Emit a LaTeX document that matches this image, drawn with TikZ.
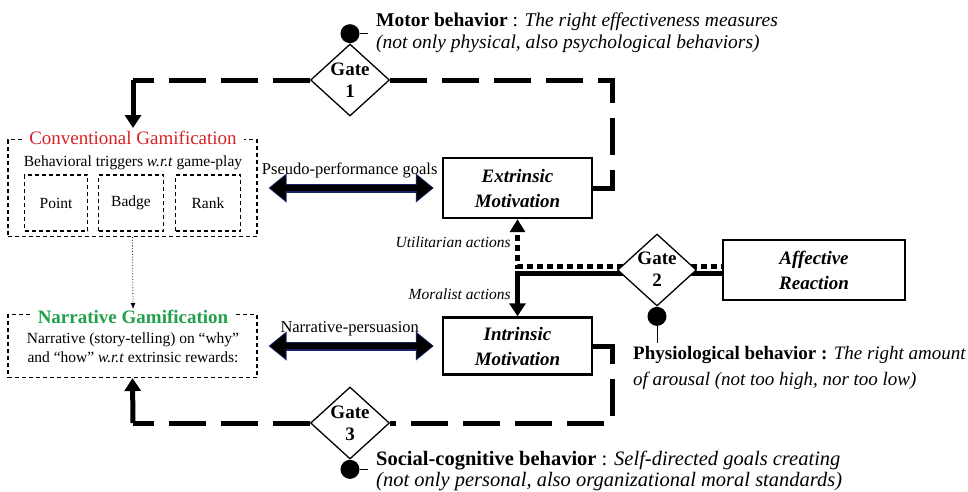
\documentclass[tikz,border=0pt]{standalone}
\usepackage{fontspec}
\setmainfont{Liberation Serif}
\usetikzlibrary{shapes.geometric,arrows.meta,backgrounds}
\definecolor{convred}{RGB}{215,35,40}
\definecolor{narrgreen}{RGB}{35,160,75}
\definecolor{arrownavy}{RGB}{25,35,100}

\begin{document}
\begin{tikzpicture}[x=1pt,y=-1pt,
  mbox/.style={draw,line width=2.4pt,minimum width=149pt,minimum height=60pt,align=center,font=\fontsize{19}{25}\selectfont\bfseries\itshape},
  dashbox/.style={draw,dash pattern=on 4pt off 3pt,line width=1.1pt},
  gate/.style={draw,diamond,fill=white,line width=1.3pt,minimum width=79pt,minimum height=72pt,inner sep=0pt},
  gatetext/.style={align=center,font=\fontsize{19}{22}\selectfont\bfseries},
  knob/.style={circle,fill,inner sep=0pt,minimum size=19pt},
  note/.style={align=left,anchor=west,inner xsep=0pt,font=\fontsize{19}{22}\selectfont},
  gateline/.style={line width=5pt,dash pattern=on 37pt off 15pt},
  heavy/.style={line width=5pt},
  dotline/.style={line width=5pt,dash pattern=on 6pt off 4pt},
  tip/.style={-{Triangle[width=16pt,length=13pt]}},
  small/.style={font=\fontsize{15.5}{19}\selectfont},
  bigback/.style={draw=arrownavy,line width=9pt,{Triangle[width=28pt,length=18pt]}-{Triangle[width=28pt,length=18pt]},shorten <=11pt,shorten >=8pt},
  bigfront/.style={line width=6.5pt,{Triangle[width=24pt,length=15.5pt]}-{Triangle[width=24pt,length=15.5pt]},shorten <=12.5pt,shorten >=9.5pt}
]
\useasboundingbox (0,0) rectangle (968,491);

% Gamification boxes
\node[dashbox,minimum width=249pt,minimum height=97pt] (conv) at (132.5,188) {};
\node[fill=white,text=convred,inner xsep=7pt,inner ysep=1pt,font=\fontsize{19}{22}\selectfont] (convtitle) at (133,138) {Conventional Gamification};
\node[small] (trig) at (133,163) {Behavioral triggers \textit{w.r.t} game-play};
\node[dashbox,small,minimum width=63pt,minimum height=56pt] (point) at (56,203) {Point};
\node[dashbox,small,minimum width=65pt,minimum height=56pt] (badge) at (131,203) {Badge};
\node[dashbox,small,minimum width=65pt,minimum height=56pt] (rank) at (208,203) {Rank};

\node[dashbox,minimum width=249pt,minimum height=63pt] (narr) at (132.5,346) {};
\node[fill=white,text=narrgreen,inner xsep=7pt,inner ysep=1pt,font=\fontsize{19}{22}\selectfont\bfseries] (narrtitle) at (133,317) {Narrative Gamification};
\node[small,align=center] (story) at (133,348) {Narrative (story-telling) on “why”\\and “how” \textit{w.r.t} extrinsic rewards:};

\draw[line width=0.8pt,dotted,-{Latex[length=6pt,width=5pt]}] (conv.south) -- (narrtitle.north);

% Motivation boxes
\node[mbox] (ext) at (517.5,188) {Extrinsic\\Motivation};
\node[mbox,minimum height=57pt] (int) at (517.5,346) {Intrinsic\\Motivation};
\node[mbox,minimum width=182pt] (aff) at (814,270) {Affective\\Reaction};

% Gates
\node[gate] (g1) at (350,80) {};
\node[gatetext] at (g1) {Gate\\1};
\node[gate] (g2) at (657,270) {};
\node[gatetext] at ([yshift=1pt]g2) {Gate\\2};
\node[gate] (g3) at (350,423) {};
\node[gatetext] at (g3) {Gate\\3};

\node[knob,anchor=south] (k1) at (g1.north) {};
\node[knob,anchor=north] (k2) at (g2.south) {};
\node[knob,anchor=north] (k3) at (g3.south) {};
\draw[line width=0.8pt] (k1.east) -- ++(8,0);
\draw[line width=0.8pt] (k2.south) -- ++(0,17);
\draw[line width=0.8pt] (k3.east) -- ++(8,0);

\node[note,font=\fontsize{19.5}{22}\selectfont] (motor) at (376,33) {\textbf{Motor behavior} : \textit{The right effectiveness measures}\\\textit{(not only physical, also psychological behaviors)}};
\node[note,font=\fontsize{19}{26}\selectfont] (physio) at (633,368) {\textbf{Physiological behavior :} \textit{The right amount}\\\textit{of arousal (not too high, nor too low)}};
\node[note,font=\fontsize{20.5}{21}\selectfont] (social) at (376,471) {\textbf{Social-cognitive behavior} : \textit{Self-directed goals creating}\\\textit{(not only personal, also organizational moral standards)}};

% Persuasion arrows
\draw[bigback] (conv.east) -- (ext.west);
\draw[bigfront] (conv.east) -- node[above=3pt,font=\fontsize{16.5}{20}\selectfont] (pseudo) {Pseudo-performance goals} (ext.west);
\draw[bigback] (narr.east) -- (int.west);
\draw[bigfront] (narr.east) -- node[above=3pt,font=\fontsize{16.5}{20}\selectfont] (persu) {Narrative-persuasion} (int.west);

% Gate lines
\coordinate (c1) at (612,80);
\coordinate (c0) at (133,80);
\coordinate (c3) at (612,423);
\coordinate (c4) at (133,423);
\begin{scope}[on background layer]
\draw[gateline] (ext.east) -| (c1) -- (g1.east);
\draw[gateline] (g1.west) -- (c0);
\draw[heavy,tip] (c0) -- ([yshift=2pt]convtitle.north);
\draw[gateline] (int.east) -| (c3) -- (g3.east);
\draw[gateline] (g3.west) -- (c4);
\draw[heavy,tip] (c4) -- (narr.south);

\draw[dotline,-{Triangle[width=15pt,length=13pt]}] ([xshift=6pt,yshift=4pt]g2.west) -| (ext.south) node[pos=0.75,left=1pt,font=\fontsize{15.5}{19}\selectfont\itshape] (util) {Utilitarian actions};
\draw[heavy,tip] ([xshift=6pt,yshift=-3pt]g2.west) -| (int.north) node[pos=0.75,left=1pt,font=\fontsize{15.5}{19}\selectfont\itshape] (moral) {Moralist actions};
\draw[dotline] ([xshift=-6pt,yshift=4pt]g2.east) -- ([yshift=4pt]aff.west);
\draw[heavy] ([xshift=-6pt,yshift=-3pt]g2.east) -- ([yshift=-3pt]aff.west);
\end{scope}
\end{tikzpicture}
\end{document}
